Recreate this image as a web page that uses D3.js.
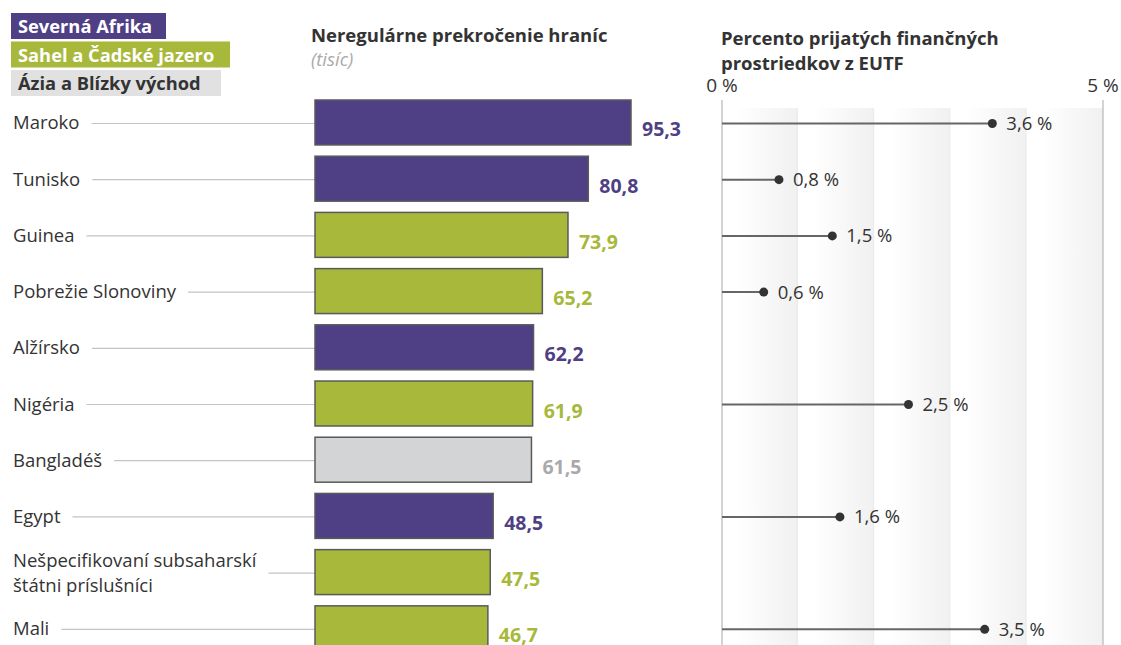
<!DOCTYPE html>
<html lang="sk">
<head>
<meta charset="utf-8">
<script src="https://d3js.org/d3.v7.min.js"></script>
<style>
  body { margin: 0; background: #fff; }
  text { font-family: "Open Sans", "Noto Sans", sans-serif; }
</style>
</head>
<body>
<svg id="chart" width="1121" height="645"></svg>
<script>
// data
var countries = ["Maroko", "Tunisko", "Guinea", "Pobrežie Slonoviny", "Alžírsko", "Nigéria",
                 "Bangladéš", "Egypt", "Nešpecifikovaní subsaharskí|štátni príslušníci", "Mali"];
var crossings = [95.3, 80.8, 73.9, 65.2, 62.2, 61.9, 61.5, 48.5, 47.5, 46.7];
var regions   = ["sa", "sa", "sc", "sc", "sa", "sc", "az", "sa", "sc", "sc"];
var eutf      = [3.6, 0.8, 1.5, 0.6, null, 2.5, null, 1.6, null, 3.5];
var legendNames = ["Severná Afrika", "Sahel a Čadské jazero", "Ázia a Blízky východ"];
var regionKeys  = ["sa", "sc", "az"];
var pctTicks = [0, 5];

var fillColor  = d3.scaleOrdinal().domain(regionKeys).range(["#4f3f84", "#a8b83a", "#d3d4d6"]);
var labelColor = d3.scaleOrdinal().domain(regionKeys).range(["#4f3f84", "#a8b83a", "#a9a9ab"]);
var legendText = d3.scaleOrdinal().domain(regionKeys).range(["#fff", "#fff", "#333"]);
var legendFill = d3.scaleOrdinal().domain(regionKeys).range(["#4f3f84", "#a8b83a", "#e1e1e1"]);

var svg = d3.select("#chart");
var data = countries.map(function(c, i) {
  return { name: c, value: crossings[i], region: regions[i], pct: eutf[i] };
});

// scales
var y = d3.scaleBand().domain(d3.range(countries.length)).range([100, 650.8]).paddingInner(0.2).paddingOuter(0);
var x = d3.scaleLinear().domain([-12, 95.3]).range([315, 631]);
var xp = d3.scaleLinear().domain([0, 5]).range([722, 1103]);

// legend
var leg = svg.append("g");
var legW = [155, 219, 210];
legendNames.forEach(function(n, i) {
  var gy = 13 + i * 28.5;
  leg.append("rect").attr("x", 11).attr("y", gy).attr("width", legW[i]).attr("height", 26)
    .attr("fill", legendFill(regionKeys[i]));
  leg.append("text").attr("x", 18).attr("y", gy + 20).attr("font-size", 18.3).attr("font-weight", 700)
    .attr("fill", legendText(regionKeys[i])).text(n);
});

// titles
svg.append("text").attr("x", 311).attr("y", 42).attr("font-size", 18.5).attr("font-weight", 700)
  .attr("fill", "#333").text("Neregulárne prekročenie hraníc");
svg.append("text").attr("x", 311).attr("y", 66).attr("font-size", 18.5).attr("font-style", "italic")
  .attr("fill", "#aaa").text("(tisíc)");
svg.append("text").attr("x", 721).attr("y", 45).attr("font-size", 18.5).attr("font-weight", 700)
  .attr("fill", "#333").text("Percento prijatých finančných");
svg.append("text").attr("x", 721).attr("y", 70).attr("font-size", 18.5).attr("font-weight", 700)
  .attr("fill", "#333").text("prostriedkov z EUTF");

// right panel background stripes
var defs = svg.append("defs");
var grad = defs.append("linearGradient").attr("id", "stripe").attr("x1", "0%").attr("x2", "100%");
grad.append("stop").attr("offset", "20%").attr("stop-color", "#fff");
grad.append("stop").attr("offset", "97%").attr("stop-color", "#f1f1f1");
grad.append("stop").attr("offset", "100%").attr("stop-color", "#e9e9e9");
var bands = d3.range(0, 5, 1);
svg.append("g").selectAll("rect").data(bands).enter().append("rect")
  .attr("x", function(d) { return xp(d); })
  .attr("y", 108)
  .attr("width", xp(1) - xp(0))
  .attr("height", 645 - 108)
  .attr("fill", "url(#stripe)");
svg.append("g").selectAll("line").data(pctTicks).enter().append("line")
  .attr("x1", function(d) { return xp(d); }).attr("x2", function(d) { return xp(d); })
  .attr("y1", 100).attr("y2", 645)
  .attr("stroke", "#c4c4c4").attr("stroke-width", 1.5);
svg.append("g").selectAll("text").data(pctTicks).enter().append("text")
  .attr("x", function(d) { return xp(d); })
  .attr("y", 92)
  .attr("text-anchor", "middle")
  .attr("font-size", 19).attr("fill", "#333")
  .text(function(d) { return d + " %"; });

// country labels and leader lines
var rows = svg.append("g").selectAll("g").data(data).enter().append("g");
rows.each(function(d, i) {
  var g = d3.select(this);
  var lines = d.name.split("|");
  var cy = y(i) + y.bandwidth() / 2 + 1;
  var top = cy - (lines.length - 1) * 12.5;
  var maxW = 0;
  lines.forEach(function(l, k) {
    var t = g.append("text").attr("x", 13).attr("y", top + k * 25 + 6)
      .attr("font-size", 18.5).attr("fill", "#333").text(l);
    var w = t.node().getComputedTextLength();
    if (k === 0) maxW = w;
  });
  g.insert("line", "text").attr("x1", 13 + maxW + 12).attr("x2", x(-12))
    .attr("y1", cy).attr("y2", cy)
    .attr("stroke", "#c4c4c4").attr("stroke-width", 1.2);
});

// bars
svg.append("g").selectAll("rect").data(data).enter().append("rect")
  .attr("x", x(-12))
  .attr("y", function(d, i) { return y(i); })
  .attr("width", function(d) { return x(d.value) - x(-12); })
  .attr("height", y.bandwidth())
  .attr("fill", function(d) { return fillColor(d.region); })
  .attr("stroke", "#5a5a5a").attr("stroke-width", 1.5);

svg.append("g").selectAll("text").data(data).enter().append("text")
  .attr("x", function(d) { return x(d.value) + 11; })
  .attr("y", function(d, i) { return y(i) + y.bandwidth() / 2 + 14; })
  .attr("font-size", 19.5).attr("font-weight", 700)
  .attr("fill", function(d) { return labelColor(d.region); })
  .text(function(d) { return d3.format(".1f")(d.value).replace(".", ","); });

// lollipops
var lol = data.map(function(d, i) { return { pct: d.pct, i: i }; }).filter(function(d) { return d.pct !== null; });
var lg = svg.append("g").selectAll("g").data(lol).enter().append("g")
  .attr("transform", function(d) { return "translate(0," + (y(d.i) + y.bandwidth() / 2 + 1) + ")"; });
lg.append("line").attr("x1", xp(0)).attr("x2", function(d) { return xp(d.pct) - 4; })
  .attr("stroke", "#666").attr("stroke-width", 2);
lg.append("circle").attr("cx", function(d) { return xp(d.pct) - 4; }).attr("r", 4.5).attr("fill", "#333");
lg.append("text").attr("x", function(d) { return xp(d.pct) + 10; }).attr("y", 6.5)
  .attr("font-size", 18.5).attr("fill", "#333")
  .text(function(d) { return d3.format(".1f")(d.pct).replace(".", ",") + " %"; });
</script>
</body>
</html>
